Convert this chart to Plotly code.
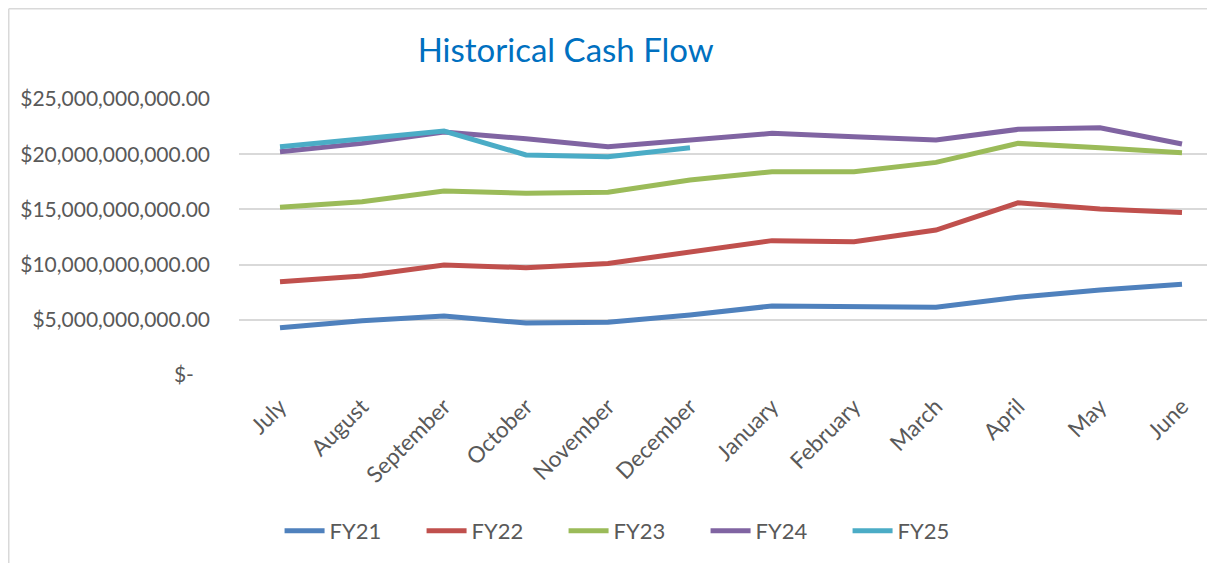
import plotly.graph_objects as go

# ---------------------------------- data ----------------------------------
months = ["July", "August", "September", "October", "November", "December",
          "January", "February", "March", "April", "May", "June"]

fy21 = [4.29e9, 4.92e9, 5.34e9, 4.70e9, 4.77e9, 5.43e9,
        6.25e9, 6.19e9, 6.13e9, 7.04e9, 7.70e9, 8.21e9]
fy22 = [8.45e9, 8.97e9, 9.96e9, 9.72e9, 10.11e9, 11.17e9,
        12.17e9, 12.08e9, 13.13e9, 15.60e9, 15.04e9, 14.73e9]
fy23 = [15.19e9, 15.70e9, 16.67e9, 16.46e9, 16.55e9, 17.66e9,
        18.42e9, 18.42e9, 19.26e9, 20.98e9, 20.59e9, 20.14e9]
fy24 = [20.23e9, 20.98e9, 22.00e9, 21.40e9, 20.68e9, 21.29e9,
        21.89e9, 21.59e9, 21.29e9, 22.25e9, 22.40e9, 20.92e9]
fy25 = [20.68e9, 21.35e9, 22.10e9, 19.93e9, 19.78e9, 20.59e9]

series_names = ["FY21", "FY22", "FY23", "FY24", "FY25"]
series_values = [fy21, fy22, fy23, fy24, fy25]
colors = ["#4F81BD", "#C0504D", "#9BBB59", "#8064A2", "#4BACC6"]

y_ticks = [0, 5e9, 10e9, 15e9, 20e9, 25e9]
y_ticktext = ["$-   ", "$5,000,000,000.00", "$10,000,000,000.00",
              "$15,000,000,000.00", "$20,000,000,000.00", "$25,000,000,000.00"]

# ---------------------------------- plot ----------------------------------
# (the html page adds an 8px body margin, so everything is nudged up/left by 8px)
FONT = "Lato"
GREY = "#595959"

fig = go.Figure()
for name, vals, col in zip(series_names, series_values, colors):
    fig.add_trace(go.Scatter(x=months[:len(vals)], y=vals, name=name,
                             mode="lines", line=dict(color=col, width=5)))

fig.update_layout(
    width=1215, height=563,
    margin=dict(l=231, r=0, t=91, b=196),
    paper_bgcolor="white", plot_bgcolor="white",
    font=dict(family=FONT, color=GREY),
    title=dict(text="Historical Cash Flow", font=dict(family=FONT, size=33, color="#0070C0"),
               x=0.459, xanchor="center", y=0.925, yanchor="middle", xref="container", yref="container"),
    showlegend=True,
    legend=dict(orientation="h", x=0.402, xanchor="center", y=-0.565, yanchor="middle",
                font=dict(family=FONT, size=22, color=GREY),
                entrywidth=87, entrywidthmode="pixels", itemwidth=40),
    hovermode="x",
)

fig.update_xaxes(type="category", range=[-0.5, 11.5], tickangle=-45,
                 tickfont=dict(family=FONT, size=22.5, color=GREY),
                 showgrid=False, showline=False, ticks="", zeroline=False,
                 ticklabelstandoff=13)
fig.update_yaxes(range=[0, 25e9], tickvals=y_ticks, ticktext=y_ticktext,
                 tickfont=dict(family=FONT, size=21, color=GREY),
                 showgrid=True, gridcolor="#D9D9D9", gridwidth=1.5,
                 zeroline=False, showline=False, ticklabelstandoff=28)

# chart-area border (left and top edges)
bx = (0.75 - 231) / 984
by = 1 + (91 - 0.75) / 276
fig.add_shape(type="line", xref="paper", yref="paper", x0=bx, x1=bx, y0=by, y1=-0.75,
              line=dict(color="#D9D9D9", width=1.5))
fig.add_shape(type="line", xref="paper", yref="paper", x0=bx, x1=1.1, y0=by, y1=by,
              line=dict(color="#D9D9D9", width=1.5))

fig.write_html("out.html")
